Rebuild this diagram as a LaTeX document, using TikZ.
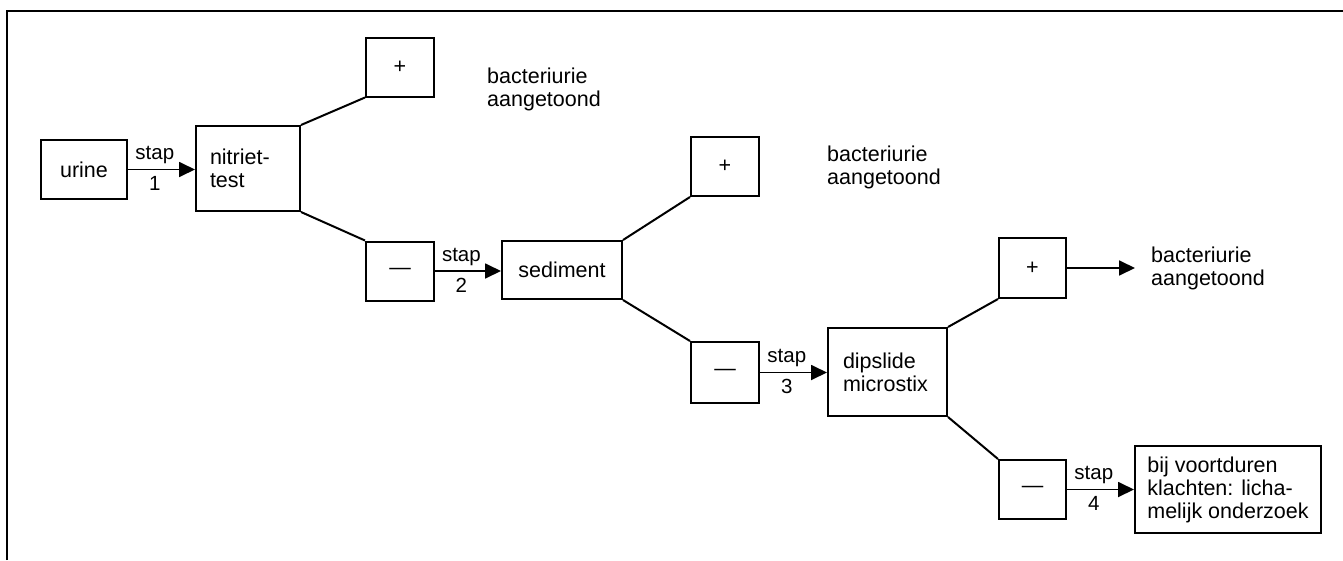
\documentclass[tikz,border=0pt]{standalone}
\usepackage{fontspec}
\setmainfont{Liberation Sans}
\usetikzlibrary{arrows.meta}
\begin{document}
\begin{tikzpicture}[x=1pt,y=-1pt,
  box/.style={draw, line width=2pt, inner sep=0pt, font=\fontsize{21.5}{23}\selectfont},
  sbox/.style={box, minimum width=68pt, minimum height=59pt},
  lbox/.style={box, align=left, inner ysep=0pt},
  txt/.style={inner sep=0pt, align=left, font=\fontsize{21.5}{23}\selectfont, anchor=west},
  link/.style={line width=2pt},
  arr/.style={line width=1.8pt, -{Triangle[length=16pt,width=15pt]}},
  lab/.style={font=\fontsize{20.5}{22}\selectfont, anchor=base, inner sep=0pt}
]
\useasboundingbox (0,0) rectangle (1343,560);
\draw[line width=2.4pt] (7,560) -- (7,11) -- (1343,11);

\node[box, minimum width=86pt, minimum height=59pt] (urine) at (84,169.5) {urine};
\node[lbox, text width=76pt, inner xsep=14pt, minimum height=85pt] (nitriet) at (248,168.5) {nitriet-\\test};
\node[sbox] (p1) at (400,67) {+};
\node[sbox] (m1) at (400,271) {\textemdash};
\node[box, minimum width=120pt, minimum height=58pt] (sed) at (562,270) {sediment};
\node[sbox] (p2) at (725,166.5) {+};
\node[sbox, minimum height=61pt] (m2) at (725,372.5) {\textemdash};
\node[lbox, text width=89pt, inner xsep=15pt, minimum height=88pt] (dip) at (887.5,372) {dipslide\\microstix};
\node[sbox, minimum width=67pt, minimum height=60pt] (p3) at (1032.5,268) {+};
\node[sbox, minimum width=67pt] (m3) at (1032.5,489.5) {\textemdash};
\node[lbox, minimum width=186pt, minimum height=87pt] (fin) at (1228,489.5) {bij voortduren\\klachten: licha-\\melijk onderzoek};

\node[txt] (t1) at (487,89) {bacteriurie\\aangetoond};
\node[txt] (t2) at (827,167) {bacteriurie\\aangetoond};
\node[txt, inner xsep=16pt] (t3) at (1135,268.6) {bacteriurie\\aangetoond};

\draw[link] (nitriet.north east) -- (p1.south west);
\draw[link] (nitriet.south east) -- (m1.north west);
\draw[link] (sed.north east) -- (p2.south west);
\draw[link] (sed.south east) -- (m2.north west);
\draw[link] (dip.north east) -- (p3.south west);
\draw[link] (dip.south east) -- (m3.north west);

\draw[arr] (urine.east) -- node[lab, pos=.4, yshift=10pt] (s1) {stap} node[lab, pos=.4, yshift=-21pt] (n1) {1} (nitriet.west |- urine.east);
\draw[arr] (m1.east) -- node[lab, pos=.4, yshift=10pt] (s2) {stap} node[lab, pos=.4, yshift=-21pt] (n2) {2} (sed.west |- m1.east);
\draw[arr] (m2.east) -- node[lab, pos=.4, yshift=10pt] (s3) {stap} node[lab, pos=.4, yshift=-21pt] (n3) {3} (dip.west |- m2.east);
\draw[arr] (m3.east) -- node[lab, pos=.4, yshift=10pt] (s4) {stap} node[lab, pos=.4, yshift=-21pt] (n4) {4} (fin.west |- m3.east);
\draw[arr] (p3.east) -- (t3.west |- p3.east);
\end{tikzpicture}
\end{document}
